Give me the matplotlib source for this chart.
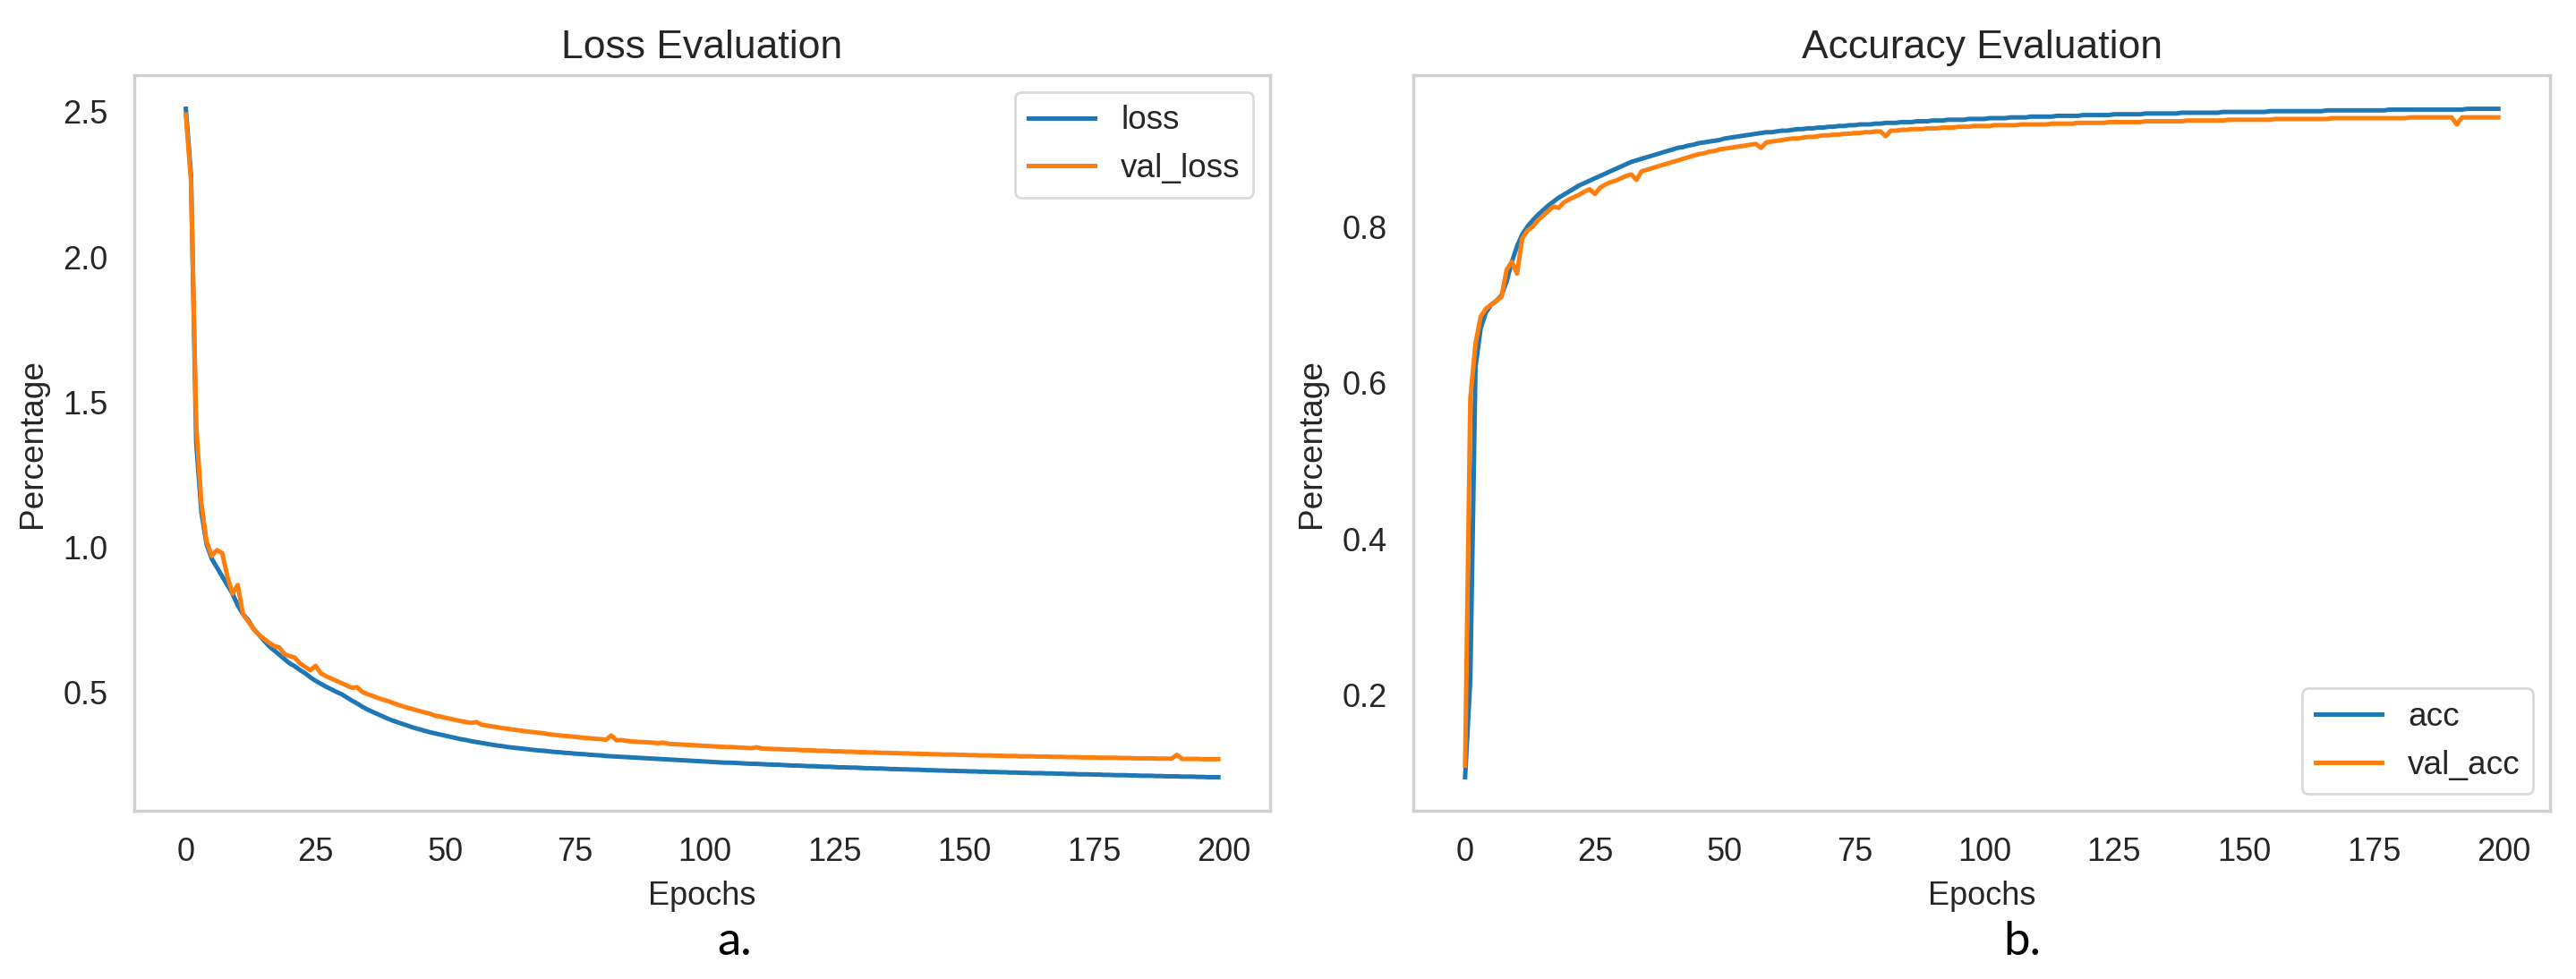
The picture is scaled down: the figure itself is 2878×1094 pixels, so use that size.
import matplotlib
matplotlib.use("Agg")
import matplotlib.pyplot as plt

# training history (200 epochs)
loss = [
    2.51, 2.28, 1.36, 1.12, 1.01, 0.96, 0.93, 0.90, 0.87, 0.84,
    0.80, 0.77, 0.75, 0.72, 0.70, 0.68, 0.66, 0.645, 0.63, 0.615,
    0.60, 0.59, 0.577, 0.566, 0.552, 0.54, 0.53, 0.52, 0.511, 0.502,
    0.494, 0.483, 0.472, 0.462, 0.451, 0.441, 0.433, 0.425, 0.417, 0.409,
    0.402, 0.396, 0.39, 0.384, 0.378, 0.373, 0.368, 0.363, 0.359, 0.355,
    0.351, 0.347, 0.343, 0.339, 0.336, 0.332, 0.329, 0.326, 0.323, 0.32,
    0.317, 0.315, 0.312, 0.31, 0.308, 0.306, 0.304, 0.302, 0.3, 0.299,
    0.297, 0.295, 0.294, 0.292, 0.291, 0.289, 0.288, 0.287, 0.285, 0.284,
    0.283, 0.281, 0.28, 0.279, 0.278, 0.277, 0.276, 0.275, 0.274, 0.273,
    0.272, 0.271, 0.27, 0.269, 0.268, 0.267, 0.266, 0.265, 0.264, 0.263,
    0.262, 0.261, 0.26, 0.259, 0.258, 0.258, 0.257, 0.256, 0.255, 0.254,
    0.254, 0.253, 0.252, 0.251, 0.251, 0.25, 0.249, 0.248, 0.248, 0.247,
    0.246, 0.246, 0.245, 0.244, 0.244, 0.243, 0.242, 0.242, 0.241, 0.241,
    0.24, 0.239, 0.239, 0.238, 0.238, 0.237, 0.236, 0.236, 0.235, 0.235,
    0.234, 0.234, 0.233, 0.232, 0.232, 0.231, 0.231, 0.23, 0.23, 0.229,
    0.229, 0.228, 0.228, 0.227, 0.227, 0.226, 0.226, 0.225, 0.225, 0.224,
    0.224, 0.223, 0.223, 0.222, 0.222, 0.222, 0.221, 0.221, 0.22, 0.22,
    0.219, 0.219, 0.218, 0.218, 0.218, 0.217, 0.217, 0.216, 0.216, 0.215,
    0.215, 0.215, 0.214, 0.214, 0.213, 0.213, 0.213, 0.212, 0.212, 0.211,
    0.211, 0.211, 0.21, 0.21, 0.21, 0.209, 0.209, 0.208, 0.208, 0.208,
]
val_loss = [
    2.49, 2.26, 1.42, 1.15, 1.02, 0.97, 0.99, 0.98, 0.90, 0.84,
    0.87, 0.77, 0.745, 0.72, 0.70, 0.685, 0.672, 0.66, 0.655, 0.632,
    0.625, 0.62, 0.60, 0.588, 0.576, 0.592, 0.566, 0.556, 0.548, 0.54,
    0.532, 0.524, 0.516, 0.518, 0.502, 0.494, 0.488, 0.481, 0.475, 0.47,
    0.463, 0.457, 0.451, 0.446, 0.441, 0.436, 0.431, 0.427, 0.42, 0.417,
    0.413, 0.409, 0.405, 0.401, 0.398, 0.395, 0.398, 0.389, 0.386, 0.383,
    0.38, 0.377, 0.375, 0.372, 0.37, 0.367, 0.365, 0.363, 0.361, 0.359,
    0.356, 0.354, 0.352, 0.35, 0.349, 0.347, 0.345, 0.343, 0.342, 0.34,
    0.339, 0.337, 0.352, 0.335, 0.336, 0.333, 0.331, 0.33, 0.329, 0.328,
    0.327, 0.325, 0.327, 0.323, 0.322, 0.321, 0.32, 0.319, 0.318, 0.317,
    0.316, 0.315, 0.314, 0.313, 0.312, 0.312, 0.311, 0.31, 0.309, 0.308,
    0.311, 0.307, 0.306, 0.305, 0.305, 0.304, 0.303, 0.303, 0.302, 0.301,
    0.301, 0.3, 0.299, 0.299, 0.298, 0.297, 0.297, 0.296, 0.296, 0.295,
    0.294, 0.294, 0.293, 0.293, 0.292, 0.292, 0.291, 0.291, 0.29, 0.29,
    0.289, 0.289, 0.288, 0.288, 0.287, 0.287, 0.286, 0.286, 0.286, 0.285,
    0.285, 0.284, 0.284, 0.283, 0.283, 0.283, 0.282, 0.282, 0.281, 0.281,
    0.281, 0.28, 0.28, 0.28, 0.279, 0.279, 0.279, 0.278, 0.278, 0.278,
    0.277, 0.277, 0.277, 0.276, 0.276, 0.276, 0.275, 0.275, 0.275, 0.275,
    0.274, 0.274, 0.274, 0.273, 0.273, 0.273, 0.273, 0.272, 0.272, 0.272,
    0.272, 0.285, 0.271, 0.271, 0.271, 0.271, 0.27, 0.27, 0.27, 0.27,
]
acc = [
    0.095, 0.22, 0.62, 0.67, 0.69, 0.70, 0.705, 0.712, 0.73, 0.755,
    0.775, 0.79, 0.80, 0.808, 0.815, 0.821, 0.827, 0.832, 0.837, 0.841,
    0.845, 0.849, 0.853, 0.856, 0.859, 0.862, 0.865, 0.868, 0.871, 0.874,
    0.877, 0.88, 0.883, 0.885, 0.887, 0.889, 0.891, 0.893, 0.895, 0.897,
    0.899, 0.901, 0.902, 0.904, 0.905, 0.907, 0.908, 0.909, 0.91, 0.911,
    0.913, 0.914, 0.915, 0.916, 0.917, 0.918, 0.919, 0.92, 0.921, 0.921,
    0.922, 0.923, 0.923, 0.924, 0.925, 0.925, 0.926, 0.926, 0.927, 0.927,
    0.928, 0.928, 0.929, 0.929, 0.93, 0.93, 0.931, 0.931, 0.931, 0.932,
    0.932, 0.933, 0.933, 0.933, 0.934, 0.934, 0.934, 0.935, 0.935, 0.935,
    0.936, 0.936, 0.936, 0.937, 0.937, 0.937, 0.937, 0.938, 0.938, 0.938,
    0.938, 0.939, 0.939, 0.939, 0.939, 0.94, 0.94, 0.94, 0.94, 0.941,
    0.941, 0.941, 0.941, 0.941, 0.942, 0.942, 0.942, 0.942, 0.942, 0.943,
    0.943, 0.943, 0.943, 0.943, 0.943, 0.944, 0.944, 0.944, 0.944, 0.944,
    0.944, 0.945, 0.945, 0.945, 0.945, 0.945, 0.945, 0.945, 0.946, 0.946,
    0.946, 0.946, 0.946, 0.946, 0.946, 0.946, 0.947, 0.947, 0.947, 0.947,
    0.947, 0.947, 0.947, 0.947, 0.947, 0.948, 0.948, 0.948, 0.948, 0.948,
    0.948, 0.948, 0.948, 0.948, 0.948, 0.948, 0.949, 0.949, 0.949, 0.949,
    0.949, 0.949, 0.949, 0.949, 0.949, 0.949, 0.949, 0.949, 0.95, 0.95,
    0.95, 0.95, 0.95, 0.95, 0.95, 0.95, 0.95, 0.95, 0.95, 0.95,
    0.95, 0.95, 0.95, 0.951, 0.951, 0.951, 0.951, 0.951, 0.951, 0.951,
]
val_acc = [
    0.11, 0.58, 0.65, 0.685, 0.695, 0.70, 0.705, 0.71, 0.745, 0.755,
    0.74, 0.785, 0.795, 0.80, 0.808, 0.814, 0.82, 0.826, 0.824, 0.831,
    0.835, 0.838, 0.841, 0.845, 0.848, 0.842, 0.85, 0.854, 0.857, 0.859,
    0.862, 0.865, 0.867, 0.86, 0.871, 0.873, 0.875, 0.877, 0.879, 0.881,
    0.883, 0.885, 0.887, 0.889, 0.891, 0.893, 0.894, 0.896, 0.897, 0.899,
    0.9, 0.901, 0.902, 0.903, 0.904, 0.905, 0.906, 0.901, 0.908, 0.909,
    0.91, 0.911, 0.912, 0.913, 0.913, 0.914, 0.915, 0.915, 0.916, 0.917,
    0.917, 0.918, 0.918, 0.919, 0.919, 0.92, 0.92, 0.921, 0.921, 0.922,
    0.922, 0.916, 0.923, 0.923, 0.924, 0.924, 0.925, 0.925, 0.925, 0.926,
    0.926, 0.926, 0.927, 0.927, 0.927, 0.928, 0.928, 0.928, 0.929, 0.929,
    0.929, 0.929, 0.93, 0.93, 0.93, 0.93, 0.93, 0.931, 0.931, 0.931,
    0.931, 0.931, 0.931, 0.932, 0.932, 0.932, 0.932, 0.932, 0.933, 0.933,
    0.933, 0.933, 0.933, 0.933, 0.934, 0.934, 0.934, 0.934, 0.934, 0.934,
    0.934, 0.935, 0.935, 0.935, 0.935, 0.935, 0.935, 0.935, 0.935, 0.936,
    0.936, 0.936, 0.936, 0.936, 0.936, 0.936, 0.936, 0.937, 0.937, 0.937,
    0.937, 0.937, 0.937, 0.937, 0.937, 0.937, 0.938, 0.938, 0.938, 0.938,
    0.938, 0.938, 0.938, 0.938, 0.938, 0.938, 0.938, 0.939, 0.939, 0.939,
    0.939, 0.939, 0.939, 0.939, 0.939, 0.939, 0.939, 0.939, 0.939, 0.939,
    0.939, 0.939, 0.94, 0.94, 0.94, 0.94, 0.94, 0.94, 0.94, 0.94,
    0.94, 0.931, 0.94, 0.94, 0.94, 0.94, 0.94, 0.94, 0.94, 0.94,
]
epochs = list(range(len(loss)))

plt.rcParams["font.family"] = ["Liberation Sans", "DejaVu Sans"]
plt.rcParams["text.color"] = "#262626"
plt.rcParams["axes.labelcolor"] = "#262626"
plt.rcParams["xtick.color"] = "#262626"
plt.rcParams["ytick.color"] = "#262626"

fig = plt.figure(figsize=(14.39, 5.47), dpi=200)
ax1 = fig.add_axes([0.0521, 0.172, 0.4409, 0.751])
ax2 = fig.add_axes([0.5487, 0.172, 0.4412, 0.751])

panels = [
    (ax1, loss, val_loss, "loss", "val_loss", "Loss Evaluation", "upper right"),
    (ax2, acc, val_acc, "acc", "val_acc", "Accuracy Evaluation", "lower right"),
]
for ax, train, val, n1, n2, title, loc in panels:
    ax.plot(epochs, train, color="#1f77b4", lw=1.8, label=n1)
    ax.plot(epochs, val, color="#ff7f0e", lw=1.8, label=n2)
    ax.set_title(title, fontsize=16, pad=7)
    ax.set_xlabel("Epochs", fontsize=13, labelpad=5)
    ax.set_ylabel("Percentage", fontsize=13.3, labelpad=6)
    ax.set_xticks([0, 25, 50, 75, 100, 125, 150, 175, 200])
    ax.tick_params(labelsize=13, length=0, pad=10.5)
    ax.grid(False)
    for s in ax.spines.values():
        s.set_color("#d0d0d0")
        s.set_linewidth(1.25)
    leg = ax.legend(loc=loc, fontsize=13.3, frameon=True, fancybox=True)
    leg.get_frame().set_edgecolor("#d0d0d0")

ax2.set_yticks([0.2, 0.4, 0.6, 0.8])

fig.text(0.285, 0.038, "a.", fontsize=19, family=["Lato", "DejaVu Sans"],
         color="black", ha="center", va="center")
fig.text(0.785, 0.038, "b.", fontsize=19, family=["Lato", "DejaVu Sans"],
         color="black", ha="center", va="center")

fig.savefig("out.png", dpi=200)
plt.close(fig)
